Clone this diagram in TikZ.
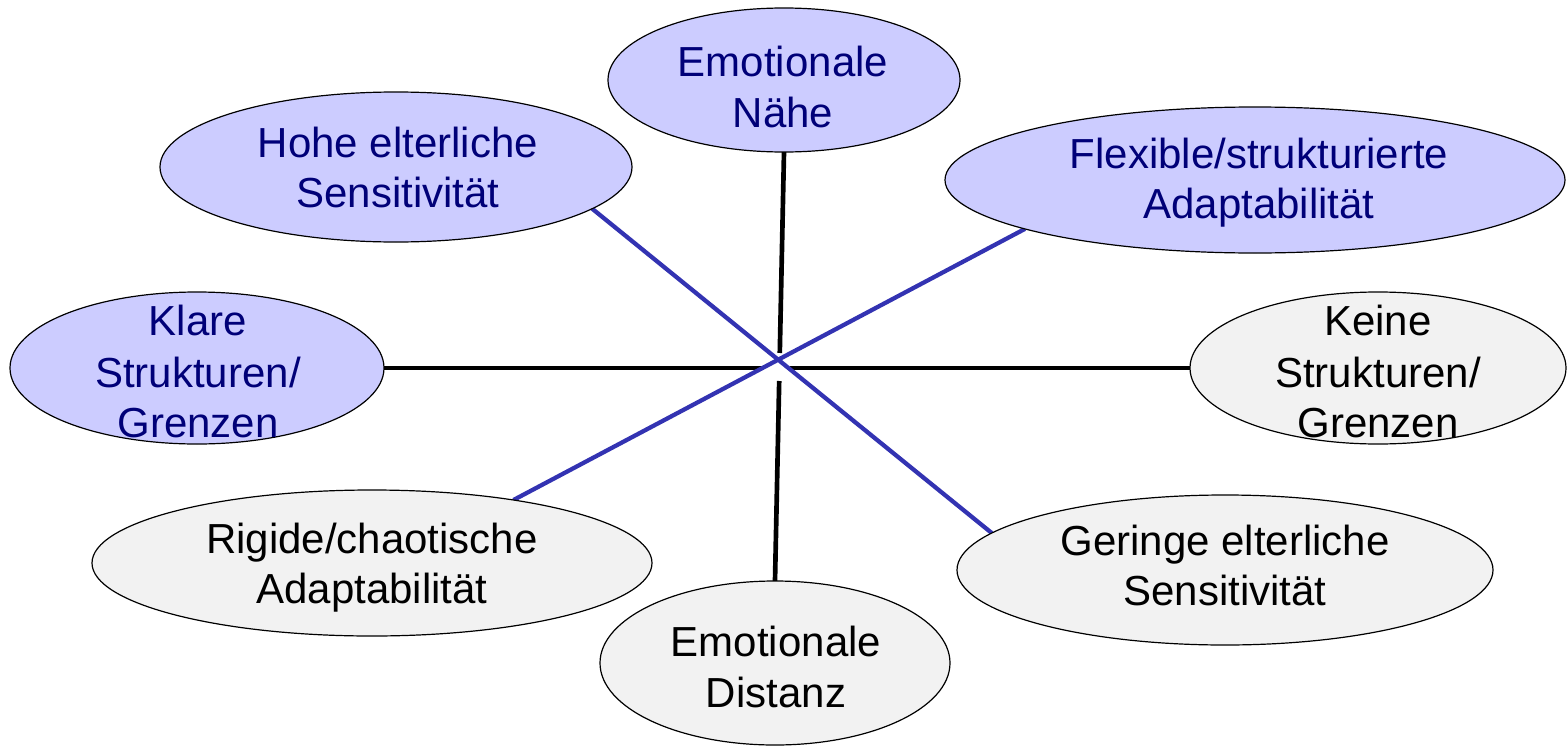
\documentclass[tikz,border=0pt]{standalone}
\usepackage{fontspec}
\setmainfont{Liberation Sans}
\usetikzlibrary{shapes.geometric,calc,backgrounds}
\definecolor{posfill}{RGB}{204,204,255}
\definecolor{negfill}{RGB}{242,242,242}
\definecolor{postext}{RGB}{0,0,120}
\definecolor{diagblue}{RGB}{51,51,178}
\begin{document}
\begin{tikzpicture}[x=0.75pt,y=-0.75pt,
  pole/.style={ellipse, draw=black, line width=0.9pt, inner sep=0pt, outer sep=0pt},
  pospole/.style={pole, fill=posfill},
  negpole/.style={pole, fill=negfill},
  dims/.style 2 args={minimum width=#1*0.75pt, minimum height=#2*0.75pt},
  lbl/.style={anchor=base, inner sep=0pt, font=\fontsize{31.5}{37}\selectfont},
  postxt/.style={lbl, text=postext},
  negtxt/.style={lbl, text=black},
  axisline/.style={line width=3.5pt, black},
  diagline/.style={line width=3.2pt, diagblue}]
\useasboundingbox (0,0) rectangle (1567,746);

% poles
\node[pospole, dims={352}{144}] (nahe)    at (784,80)   {};
\node[pospole, dims={472}{150}] (hohe)    at (396,167)  {};
\node[pospole, dims={620}{146}] (flex)    at (1255,180) {};
\node[pospole, dims={374}{152}] (klare)   at (197,368)  {};
\node[negpole, dims={376}{152}] (keine)   at (1378,368) {};
\node[negpole, dims={560}{146}] (rigide)  at (372,563)  {};
\node[negpole, dims={536}{150}] (geringe) at (1225,570) {};
\node[negpole, dims={350}{164}] (distanz) at (775,663)  {};

% labels
\node[postxt] (nahe-a) at (783,76)  {Emotionale};
\node[postxt] (nahe-b) at (783,127) {Nähe};
\node[postxt] (hohe-a) at (398,157) {Hohe elterliche};
\node[postxt] (hohe-b) at (398,207) {Sensitivität};
\node[postxt] (flex-a) at (1259,168) {Flexible/strukturierte};
\node[postxt] (flex-b) at (1259,218) {Adaptabilität};
\node[postxt] (klare-a) at (198,335) {Klare};
\node[postxt] (klare-b) at (198,387) {Strukturen/};
\node[postxt] (klare-c) at (198,437) {Grenzen};
\node[negtxt] (keine-a) at (1378,335) {Keine};
\node[negtxt] (keine-b) at (1378,387) {Strukturen/};
\node[negtxt] (keine-c) at (1378,437) {Grenzen};
\node[negtxt] (rigide-a) at (372,553) {Rigide/chaotische};
\node[negtxt] (rigide-b) at (372,603) {Adaptabilität};
\node[negtxt] (geringe-a) at (1225,555) {Geringe elterliche};
\node[negtxt] (geringe-b) at (1225,605) {Sensitivität};
\node[negtxt] (distanz-a) at (776,656) {Emotionale};
\node[negtxt] (distanz-b) at (776,707) {Distanz};

% axes, interrupted around the crossing
\coordinate (vgapA) at ($(nahe.south)!0.4685!(distanz.north)$);
\coordinate (vgapB) at ($(nahe.south)!0.5338!(distanz.north)$);
\coordinate (hgapA) at ($(klare.east)!0.4715!(keine.west)$);
\coordinate (hgapB) at ($(klare.east)!0.5037!(keine.west)$);
\begin{scope}[on background layer]
  \draw[axisline] (nahe.south) -- (vgapA);
  \draw[axisline] (vgapB) -- (distanz.north);
  \draw[axisline] (klare.east) -- (hgapA);
  \draw[axisline] (hgapB) -- (keine.west);
  \draw[diagline] (hohe.-12.6) -- (geringe.171);
  \draw[diagline] (flex.192.8) -- (rigide.24);
\end{scope}
\end{tikzpicture}
\end{document}
